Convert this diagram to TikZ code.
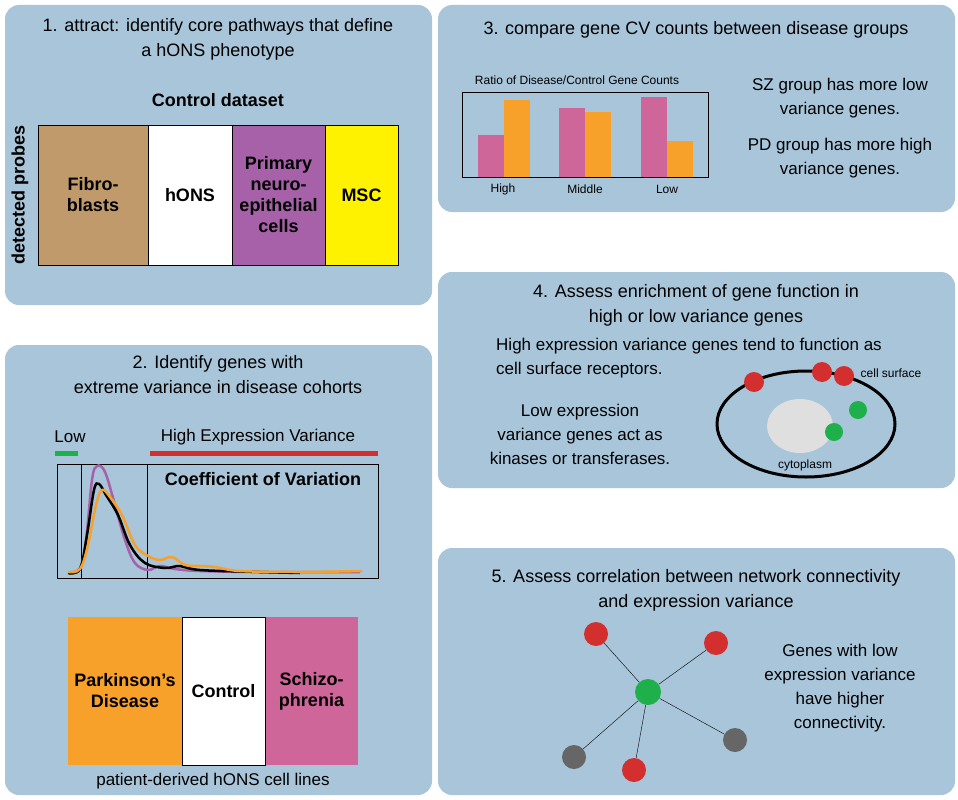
\documentclass[tikz,border=0pt]{standalone}
\usepackage{fontspec}
\setmainfont{Liberation Sans}
\definecolor{panelblue}{HTML}{A8C5D9}
\definecolor{tan}{HTML}{C19A6B}
\definecolor{lilac}{HTML}{A661A8}
\definecolor{lemon}{HTML}{FFF200}
\definecolor{pdorange}{HTML}{F7A12A}
\definecolor{szpink}{HTML}{CF6699}
\definecolor{dotred}{HTML}{D42F2F}
\definecolor{dotgreen}{HTML}{1DB04B}
\definecolor{dotgray}{HTML}{666666}
\tikzset{
  panel/.style={fill=panelblue,draw=none,rounded corners=14pt},
  ttl/.style={font=\fontsize{18}{25}\selectfont,align=center},
  txt/.style={font=\fontsize{17}{24}\selectfont,align=center},
  small/.style={font=\fontsize{12}{14}\selectfont},
  lbl/.style={font=\fontsize{18}{21}\selectfont\bfseries,align=center},
  bar/.style={draw=none},
  dot/.style={circle,minimum size=#1,inner sep=0pt,draw=none},
  dot/.default=20pt,
}
\begin{document}
\begin{tikzpicture}[x=1pt,y=-1pt]
  \useasboundingbox (0,0) rectangle (958,800);
  \fill[white] (0,0) rectangle (958,800);
  % panels
  \fill[panel] (5,5) rectangle (432,305);
  \fill[panel] (5,345) rectangle (432,795);
  \fill[panel] (438,5) rectangle (955,212);
  \fill[panel] (438,272) rectangle (955,488);
  \fill[panel] (438,548) rectangle (955,795);

  % panel 1
  \node[ttl] (t1) at (218,39) {1. attract: identify core pathways that define\\a hONS phenotype};
  \node[lbl] (ctrl) at (218,100) {Control dataset};
  \node[lbl,rotate=90] (probes) at (20,195) {detected probes};
  \begin{scope}[every node/.style={lbl}]
    \draw[fill=tan] (38,125) rectangle node (fib) {Fibro-\\blasts} (148,265);
    \draw[fill=white] (148,125) rectangle node (hons) {hONS} (232,265);
    \draw[fill=lilac] (232,125) rectangle node (pne) {Primary\\neuro-\\epithelial\\cells} (325,265);
    \draw[fill=lemon] (325,125) rectangle node (msc) {MSC} (398,265);
  \end{scope}

  % panel 2
  \node[ttl] (t2) at (218,375) {2. Identify genes with\\extreme variance in disease cohorts};
  \node[txt] (low) at (70,437) {Low};
  \node[txt] (high) at (258,437) {High Expression Variance};
  \draw[dotgreen,line width=5pt] (55,453) -- (78,453);
  \draw[dotred,line width=5pt] (150,453) -- (378,453);
  \draw[thick] (57,464) rectangle (378,578);
  \draw[thick] (81,464) -- (81,578) (147,464) -- (147,578);
  \node[lbl] (cv) at (263,479) {Coefficient of Variation};
  \draw[lilac,line width=2.5pt] plot[smooth,tension=0.6] coordinates {(70,572) (80,568) (86,540) (92,480) (97,466) (105,472) (115,505) (125,540) (135,563) (148,570) (160,566) (175,569) (200,571) (260,572) (360,572)};
  \draw[black,line width=2.5pt] plot[smooth,tension=0.6] coordinates {(68,573) (80,569) (87,535) (94,490) (99,484) (106,495) (118,515) (130,545) (145,563) (165,568) (180,566) (200,570) (260,572) (300,573)};
  \draw[pdorange,line width=2.5pt] plot[smooth,tension=0.6] coordinates {(68,572) (80,569) (88,545) (96,505) (102,490) (110,497) (122,515) (135,545) (148,556) (160,560) (172,557) (185,565) (200,566) (215,567) (240,571) (300,572) (362,571)};
  \begin{scope}[every node/.style={lbl}]
    \draw[draw=none,fill=pdorange] (68,617) rectangle node (pd) {Parkinson's\\Disease} (182,765);
    \draw[draw=none,fill=white] (182,617) rectangle node (con) {Control} (265,765);
    \draw[draw=none,fill=szpink] (265,617) rectangle node (sz) {Schizo-\\phrenia} (358,765);
  \end{scope}
  \draw (182,617) rectangle (265,765);
  \node[txt] (pat) at (213,781) {patient-derived hONS cell lines};

  % panel 3
  \node[ttl] (t3) at (696,30) {3. compare gene CV counts between disease groups};
  \node[small] (ratio) at (577,80) {Ratio of Disease/Control Gene Counts};
  \foreach \x/\p/\o in {478/135/100,559/108/112,641/97/141} {
    \fill[szpink] (\x,\p) rectangle (\x+26,177);
    \fill[pdorange] (\x+26,\o) rectangle (\x+52,177);
  }
  \draw[thick] (462,92) rectangle (708,177);
  \node[small] (hi) at (503,189) {High};
  \node[small] (mid) at (585,189) {Middle};
  \node[small] (lo) at (667,189) {Low};
  \node[txt] (szt) at (840,98) {SZ group has more low\\variance genes.};
  \node[txt] (pdt) at (840,158) {PD group has more high\\variance genes.};

  % panel 4
  \node[ttl] (t4) at (696,305) {4. Assess enrichment of gene function in\\high or low variance genes};
  \node[txt,align=left] (hev) at (689,358) {High expression variance genes tend to function as\\cell surface receptors.};
  \node[txt] (lev) at (580,434) {Low expression\\variance genes act as\\kinases or transferases.};
  \draw[line width=3pt] (806,424) ellipse (89 and 53);
  \fill[gray!25] (800,426) ellipse (33 and 27);
  \node[dot,fill=dotred] (r1) at (754,382) {};
  \node[dot,fill=dotred] (r2) at (822,372) {};
  \node[dot,fill=dotred] (r3) at (844,376) {};
  \node[dot=18pt,fill=dotgreen] (g1) at (858,410) {};
  \node[dot=18pt,fill=dotgreen] (g2) at (834,432) {};
  \node[small] (surf) at (891,373) {cell surface};
  \node[small] (cyto) at (805,465) {cytoplasm};

  % panel 5
  \node[ttl] (t5) at (696,590) {5. Assess correlation between network connectivity\\and expression variance};
  \node[dot=26pt,fill=dotgreen] (hub) at (648,692) {};
  \node[dot=24pt,fill=dotred] (n1) at (596,634) {};
  \node[dot=24pt,fill=dotred] (n2) at (716,643) {};
  \node[dot=24pt,fill=dotred] (n3) at (634,770) {};
  \node[dot=24pt,fill=dotgray] (n4) at (574,757) {};
  \node[dot=24pt,fill=dotgray] (n5) at (735,740) {};
  \foreach \n in {n1,n2,n3,n4,n5}
    \draw (hub) -- (\n);
  \node[txt] (net) at (840,688) {Genes with low\\expression variance\\have higher\\connectivity.};
\end{tikzpicture}
\end{document}
